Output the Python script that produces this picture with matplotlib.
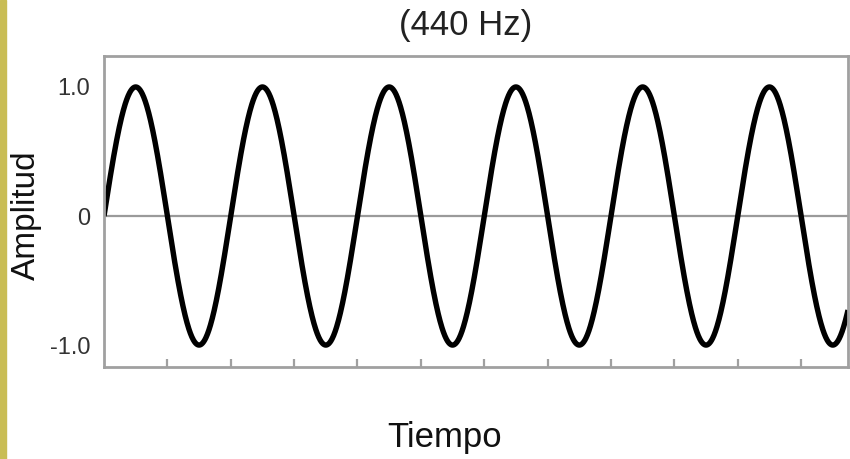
import numpy as np
import matplotlib
matplotlib.use("Agg")
import matplotlib.pyplot as plt

# onda senoidal de 440 Hz
frequency_hz = 440.0
amplitude = 1.0
n_periods = 5.87          # periodos visibles en la ventana
ytick_values = [-1.0, 0.0, 1.0]
ytick_labels = ["-1.0", "0", "1.0"]
title_text = "(440 Hz)"
xlabel_text = "Tiempo"
ylabel_text = "Amplitud"

period_ms = 1000.0 / frequency_hz
t_end = n_periods * period_ms
t = np.linspace(0, t_end, 2000)
y = amplitude * np.sin(2 * np.pi * frequency_hz * t / 1000.0)

plt.rcParams["font.family"] = ["Liberation Sans", "DejaVu Sans"]

fig = plt.figure(figsize=(8.5, 4.59), dpi=100)
fig.patch.set_facecolor("white")

# franja amarilla a la izquierda
fig.patches.append(plt.Rectangle((0, 0), 6 / 850, 1, transform=fig.transFigure,
                                 color="#C9BD55", zorder=0))

ax = fig.add_axes([104 / 850, 1 - 367 / 459, 744 / 850, 311 / 459])
ax.axhline(0, color="#9a9a9a", lw=1.6, zorder=1)
ax.plot(t, y, color="black", lw=3.9, solid_capstyle="butt", zorder=2)

ax.set_xlim(0, t_end)
ax.set_ylim(-1.17, 1.24)

grey = "#a0a0a0"
for s in ax.spines.values():
    s.set_color(grey)
    s.set_linewidth(2.0)

ax.set_xticks(np.arange(1, 12) * period_ms / 2)
ax.set_xticklabels([])
ax.tick_params(axis="x", direction="in", length=6, width=1.6, color=grey)
ax.set_yticks(ytick_values)
ax.set_yticklabels(ytick_labels)
ax.tick_params(axis="y", length=0, pad=10, labelsize=17, labelcolor="#333333")

fig.text(466 / 850, 1 - 26 / 459, title_text, ha="center", va="center",
         fontsize=25, color="#222222")
fig.text(445 / 850, 1 - 438 / 459, xlabel_text, ha="center", va="center",
         fontsize=25, color="#111111")
fig.text(26 / 850, 1 - 215 / 459, ylabel_text, ha="center", va="center",
         rotation=90, fontsize=24, color="#111111")

fig.savefig("out.png", dpi=100)
